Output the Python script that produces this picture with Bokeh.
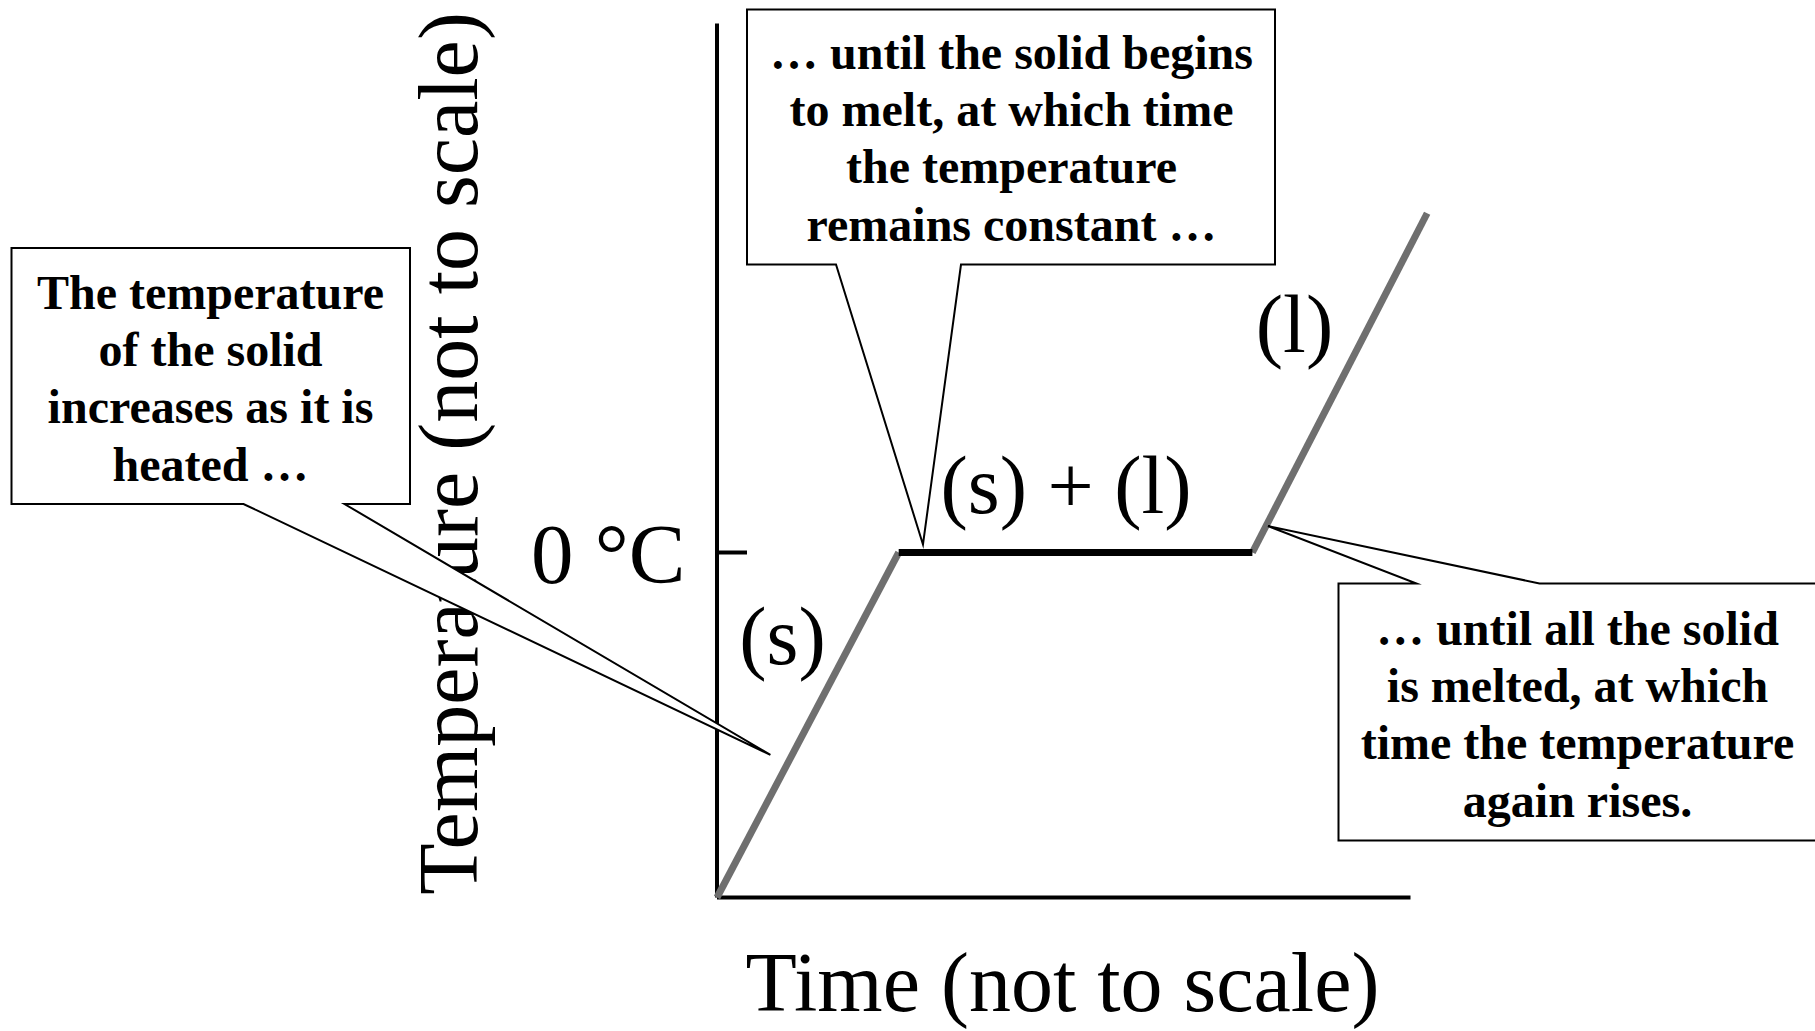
import numpy as np
from bokeh.plotting import figure
from bokeh.models import Range1d
from bokeh.core.properties import value
from bokeh.embed import file_html
from bokeh.resources import INLINE

# ---------------- data (arbitrary units, "not to scale") ----------------
time_pts = [0.0, 2.62, 7.72, 10.24]          # heating curve break points
temp_pts = [-30.0, 0.0, 0.0, 29.5]
axis_time_max = 10.0
axis_temp_max = 46.0
tick_values = [0.0]
tick_labels = ["0 °C"]
phase_labels = ["(s)", "(s) + (l)", "(l)"]
x_title = "Time (not to scale)"
y_title = "Temperature (not to scale)"
callout_texts = [
    ["The temperature", "of the solid", "increases as it is", "heated …"],
    ["… until the solid begins", "to melt, at which time", "the temperature", "remains constant …"],
    ["… until all the solid", "is melted, at which", "time the temperature", "again rises."],
]
callout_tip_time = [0.77, 2.97, 7.945]
callout_tip_temp = [-17.6, 0.7, 2.3]

# ---------------- layout ----------------
W, H = 1815, 1031
PAD = 0
ZERO_X, ZERO_Y = 716.5, 552.0      # page pixel of (time 0, 0 °C)
PX_PER_T, PX_PER_DEG = 69.35, 11.5
MID = 0.34                          # em distance from baseline to text middle

def tx(px):
    return (px - ZERO_X) / PX_PER_T

def ty(py):
    return (ZERO_Y - py) / PX_PER_DEG

def tyb(baseline_py, fs):
    return ty(baseline_py - MID * fs)

p = figure(width=W, height=H, x_range=Range1d(tx(PAD), tx(PAD + W)),
           y_range=Range1d(ty(PAD + H), ty(PAD)),
           output_backend="svg", toolbar_location=None, min_border=0,
           x_axis_type=None, y_axis_type=None)
p.outline_line_color = None
p.background_fill_color = "white"
p.border_fill_color = "white"
p.grid.visible = False

SERIF = value("Liberation Serif")
t0 = temp_pts[0]
BIG = 84

# axis titles and tick label
p.text(x=[tx(477 - MID * BIG)], y=[ty(453)], text=[y_title], angle=np.pi / 2,
       text_align="center", text_baseline="middle", text_font=SERIF,
       text_font_size=f"{BIG}px", text_color="black")
p.text(x=[tx(1062)], y=[tyb(1011, BIG)], text=[x_title], text_align="center",
       text_baseline="middle", text_font=SERIF, text_font_size=f"{BIG}px",
       text_color="black")
p.text(x=[tx(685)], y=tick_values, text=tick_labels, y_offset=30 - MID * 85,
       text_align="right", text_baseline="middle", text_font=SERIF,
       text_font_size="85px", text_color="black")

# axes
p.line([0, 0], [t0, axis_temp_max], line_color="black", line_width=4)
p.line([0, axis_time_max], [t0, t0], line_color="black", line_width=4)
for tv in tick_values:
    p.line([0, 30 / PX_PER_T], [tv, tv], line_color="black", line_width=4)

# heating curve
p.line(time_pts[0:2], temp_pts[0:2], line_color="#6f6f6f", line_width=7)
p.line(time_pts[2:4], temp_pts[2:4], line_color="#6f6f6f", line_width=7)
p.line(time_pts[1:3], temp_pts[1:3], line_color="black", line_width=7)

# phase labels
PH = 82
lab_px = [(782, 664), (1065.5, 513), (1294, 352)]
for lab, (lx, ly) in zip(phase_labels, lab_px):
    p.text(x=[tx(lx)], y=[tyb(ly, PH)], text=[lab], text_align="center",
           text_baseline="middle", text_font=SERIF, text_font_size=f"{PH}px",
           text_color="black")

# callouts: box (L, T, R, B), pointer base x positions, pointer side, text centre, first baseline
boxes = [
    dict(box=(11, 247.5, 409.5, 503.5), base=(243, 344), side="bottom", cx=210, b0=308),
    dict(box=(746.5, 9, 1274.5, 264), base=(835.5, 960.5), side="bottom", cx=1011, b0=68),
    dict(box=(1338, 583, 1850, 840), base=(1416, 1539), side="top", cx=1577, b0=644),
]
LINE_STEP = 57.3
CF = 48
for i, b in enumerate(boxes):
    L, T, R, B = b["box"]
    x1, x2 = b["base"]
    tip = (callout_tip_time[i], callout_tip_temp[i])
    if b["side"] == "bottom":
        pts = [(tx(L), ty(T)), (tx(R), ty(T)), (tx(R), ty(B)), (tx(x2), ty(B)), tip,
               (tx(x1), ty(B)), (tx(L), ty(B))]
    else:
        pts = [(tx(L), ty(T)), (tx(x1), ty(T)), tip, (tx(x2), ty(T)), (tx(R), ty(T)),
               (tx(R), ty(B)), (tx(L), ty(B))]
    p.patch([q[0] for q in pts], [q[1] for q in pts], fill_color="white",
            line_color="black", line_width=2, line_join="miter")
    lines = callout_texts[i]
    p.text(x=[tx(b["cx"])] * len(lines),
           y=[tyb(b["b0"] + k * LINE_STEP, CF) for k in range(len(lines))],
           text=lines, text_align="center", text_baseline="middle",
           text_font=SERIF, text_font_style="bold", text_font_size=f"{CF}px",
           text_color="black")

open("out.html", "w").write(file_html(p, INLINE))
